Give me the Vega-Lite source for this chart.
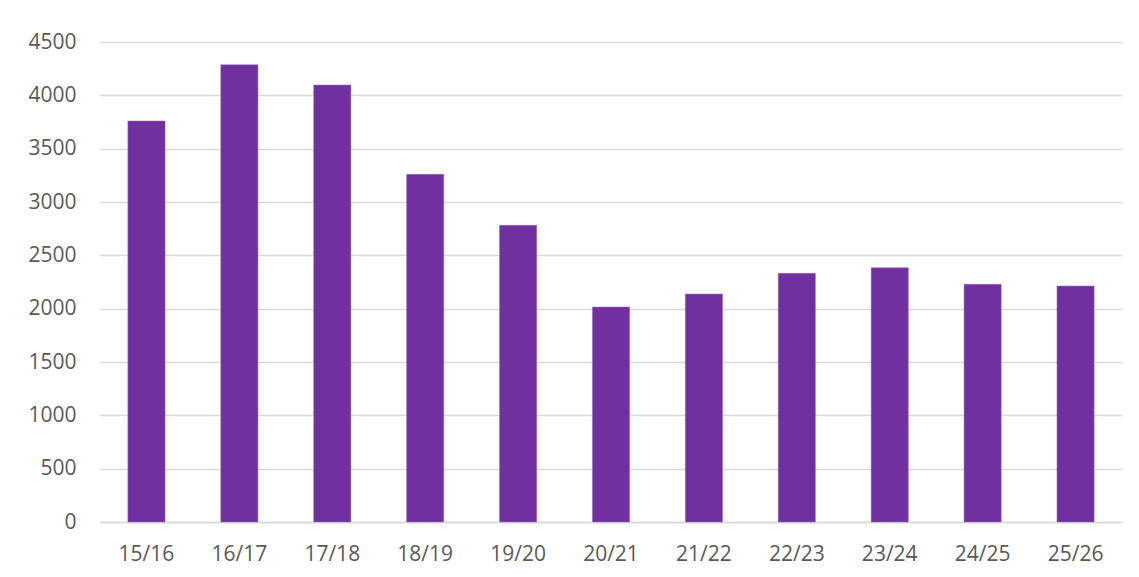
{
  "$schema": "https://vega.github.io/schema/vega-lite/v6.json",
  "autosize": "none",
  "width": 1022,
  "height": 480,
  "padding": {"left": 100, "top": 42, "right": 17, "bottom": 55},
  "background": "white",
  "config": {
    "view": {"stroke": null},
    "font": "Open Sans",
    "axis": {"labelFont": "Open Sans", "labelColor": "#595959", "labelFontSize": 21}
  },
  "data": {
    "values": [
      {"season": "15/16", "value": 3760},
      {"season": "16/17", "value": 4287},
      {"season": "17/18", "value": 4097},
      {"season": "18/19", "value": 3259},
      {"season": "19/20", "value": 2781},
      {"season": "20/21", "value": 2016},
      {"season": "21/22", "value": 2137},
      {"season": "22/23", "value": 2331},
      {"season": "23/24", "value": 2384},
      {"season": "24/25", "value": 2228},
      {"season": "25/26", "value": 2212}
    ]
  },
  "mark": {"type": "bar", "color": "#7030A0", "stroke": "#9a6cc0", "strokeWidth": 0.5},
  "encoding": {
    "x": {
      "field": "season",
      "type": "ordinal",
      "sort": null,
      "scale": {"paddingInner": 0.6, "paddingOuter": 0.3},
      "axis": {"title": null, "labelAngle": 0, "ticks": false, "domain": true, "domainColor": "#d9d9d9", "domainWidth": 1.5, "labelPadding": 21, "grid": false}
    },
    "y": {
      "field": "value",
      "type": "quantitative",
      "scale": {"domain": [0, 4500], "nice": false},
      "axis": {"title": null, "format": "d", "values": [0, 500, 1000, 1500, 2000, 2500, 3000, 3500, 4000, 4500], "ticks": false, "domain": false, "grid": true, "gridColor": "#d9d9d9", "gridWidth": 1.5, "labelPadding": 24}
    }
  }
}
